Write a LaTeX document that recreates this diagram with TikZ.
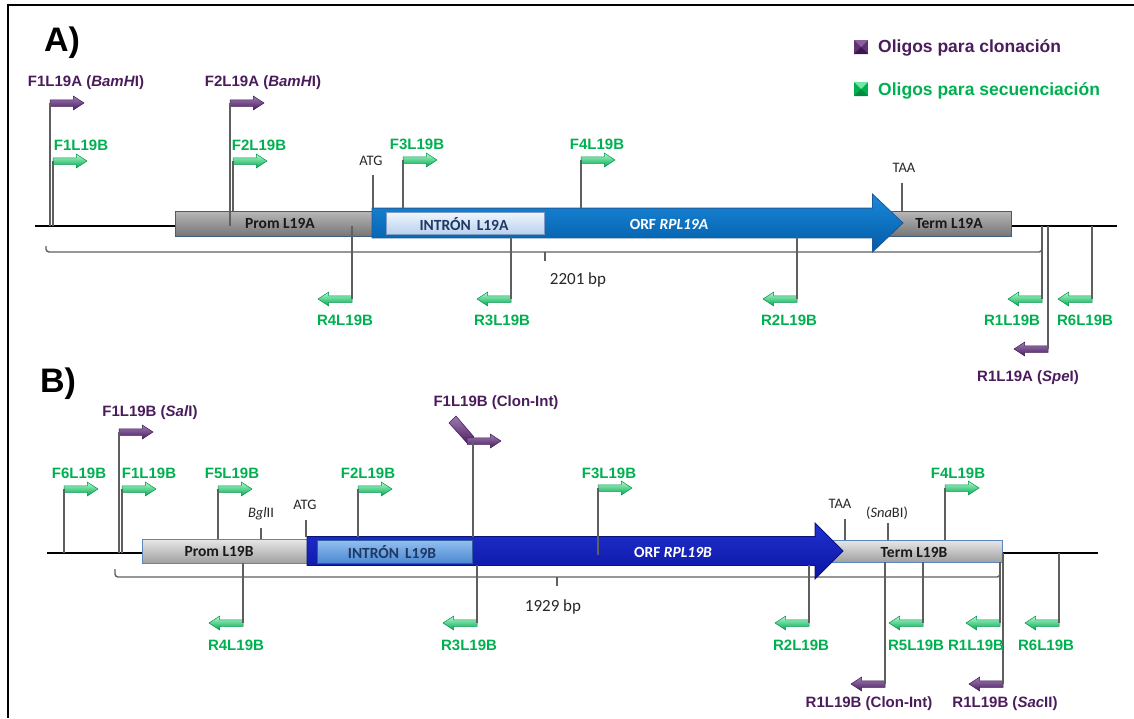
\documentclass[tikz,border=0pt]{standalone}
\usepackage{fontspec}
\setmainfont{Liberation Sans}
\newfontfamily\carl{Carlito}
\usetikzlibrary{shapes.arrows}
\definecolor{gtxt}{HTML}{00B050}
\definecolor{ptxt}{HTML}{4B1C5C}
\definecolor{gtop}{HTML}{B4FAD0}
\definecolor{gbot}{HTML}{00A94F}
\definecolor{gedge}{HTML}{00944A}
\definecolor{ptop}{HTML}{A07AB4}
\definecolor{pbot}{HTML}{4A2060}
\definecolor{pedge}{HTML}{3E1A52}
\definecolor{lgray}{HTML}{5F5F5F}
\definecolor{grAtop}{HTML}{B8B8B8}
\definecolor{grAbot}{HTML}{767676}
\definecolor{edgeA}{HTML}{3F5F80}
\definecolor{grBtop}{HTML}{E8E8E8}
\definecolor{grBbot}{HTML}{A0A0A0}
\definecolor{edgeB}{HTML}{5B87BE}
\definecolor{orfAtop}{HTML}{1C88DA}
\definecolor{orfAbot}{HTML}{005CA6}
\definecolor{orfAedge}{HTML}{1D5A96}
\definecolor{intAtop}{HTML}{F0F6FD}
\definecolor{intAbot}{HTML}{B9D1EE}
\definecolor{intAedge}{HTML}{7F9CC4}
\definecolor{orfBtop}{HTML}{2232D2}
\definecolor{orfBbot}{HTML}{0A14A0}
\definecolor{orfBedge}{HTML}{0A1478}
\definecolor{intBtop}{HTML}{92C0F0}
\definecolor{intBbot}{HTML}{4C88D2}
\definecolor{intBedge}{HTML}{2E5E9E}
\definecolor{navy}{HTML}{1F3864}
\definecolor{picmid}{HTML}{5E3470}
\definecolor{pictop}{HTML}{8A5E9E}
\definecolor{picbot}{HTML}{3B1650}
\definecolor{gicmid}{HTML}{00B050}
\definecolor{gictop}{HTML}{6FE8A6}
\definecolor{gicbot}{HTML}{008A3E}
\begin{document}
\begin{tikzpicture}[x=1pt,y=-1pt,
  primer/.style={single arrow, single arrow head extend=3.6pt, single arrow tip angle=66,
    minimum height=34pt, inner xsep=0pt, inner ysep=3pt, outer sep=0pt, anchor=tail, line width=0.5pt},
  garr/.style={primer, draw=gedge, top color=gtop, bottom color=gbot},
  parr/.style={primer, draw=pedge, top color=ptop, bottom color=pbot},
  rev/.style={shape border rotate=180},
  glab/.style={font=\bfseries\fontsize{15}{17}\selectfont, text=gtxt, inner sep=0pt},
  plab/.style={font=\bfseries\fontsize{15}{17}\selectfont, text=ptxt, inner sep=0pt},
  leglab/.style={font=\bfseries\fontsize{17.5}{20}\selectfont, inner sep=0pt, anchor=west},
  conn/.style={draw=lgray, line width=1.3pt},
  site/.style={draw=lgray, line width=1.3pt},
  sitelab/.style={font=\carl\fontsize{14.5}{16}\selectfont, text=black!85, inner sep=0pt},
  bplab/.style={font=\carl\fontsize{17}{19}\selectfont, text=black!85, inner sep=0pt},
  genebox/.style={rectangle, inner sep=0pt, outer sep=0pt, line width=0.8pt},
  boxA/.style={genebox, draw=edgeA, top color=grAtop, bottom color=grAbot},
  boxB/.style={genebox, draw=edgeB, top color=grBtop, bottom color=grBbot},
  genetxt/.style={font=\carl\bfseries\fontsize{15.5}{17}\selectfont, inner sep=0pt, text=black!90},
  bracket/.style={draw=lgray, line width=1.4pt, rounded corners=3pt},
  backbone/.style={draw=black, line width=2pt},
  paneltitle/.style={font=\bfseries\fontsize{34}{36}\selectfont, inner sep=0pt},
  bigarrow/.style={single arrow, inner xsep=0pt, outer sep=0pt, anchor=tail, line width=0.8pt}
]
\useasboundingbox (0,0) rectangle (1134,718);
% frame
\draw[line width=2.2pt] (8,718) -- (8,5) -- (1134,5);

%================ PANEL A ================
\node[paneltitle] (titA) at (62,43) {A)};
% legend
\fill[picmid] (854,40) rectangle (868,54);
\fill[pictop] (854,40) -- (868,40) -- (861,47) -- cycle;
\fill[picbot] (854,54) -- (868,54) -- (861,47) -- cycle;
\fill[gicmid] (854,82) rectangle (868,96);
\fill[gictop] (854,82) -- (868,82) -- (861,89) -- cycle;
\fill[gicbot] (854,96) -- (868,96) -- (861,89) -- cycle;
\node[leglab, text=ptxt] (legP) at (878,48) {Oligos para clonación};
\node[leglab, text=gtxt] (legG) at (878,91) {Oligos para secuenciación};

% backbone
\coordinate (bbA1) at (35,226);
\coordinate (bbA2) at (1117,226);
\draw[backbone] (bbA1) -- (bbA2);

% bracket
\coordinate (brA1) at (46,246);
\coordinate (brA2) at (46,252);
\coordinate (brA3) at (1042,252);
\coordinate (brA4) at (1042,246);
\draw[bracket] (brA1) -- (brA2) -- (brA3) -- (brA4);
\coordinate (brAm1) at (545,252);
\coordinate (brAm2) at (545,261);
\draw[bracket] (brAm1) -- (brAm2);
\node[bplab] (bpA) at (578,280) {2201 bp};

% gene blocks
\node[boxA, minimum width=211pt, minimum height=25pt] (promA) at (280.5,223.5) {};
\node[boxA, minimum width=131pt, minimum height=25pt] (termA) at (945.5,223.5) {};
\node[bigarrow, inner ysep=14.5pt, single arrow head extend=14pt, single arrow tip angle=87,
  minimum height=531pt,
  draw=orfAedge, top color=orfAtop, bottom color=orfAbot] (orfA) at (372,223) {};
\node[genebox, draw=intAedge, top color=intAtop, bottom color=intAbot,
  minimum width=158pt, minimum height=22pt] (intA) at (465,223) {};
\node[genetxt] (tPromA) at (280,223.5) {Prom L19A};
\node[genetxt, text=navy] (tIntA) at (464,224) {INTRÓN\hspace{6pt}L19A};
\node[genetxt, text=white] (tOrfA) at (669,224) {ORF \textit{RPL19A}};
\node[genetxt] (tTermA) at (949,223.5) {Term L19A};

% sites A
\coordinate (sAtgA1) at (373,208);
\coordinate (sAtgA2) at (373,175);
\draw[site] (sAtgA1) -- (sAtgA2);
\node[sitelab] (atgA) at (371,161) {ATG};
\coordinate (sTaaA1) at (902,211);
\coordinate (sTaaA2) at (902,183);
\draw[site] (sTaaA1) -- (sTaaA2);
\node[sitelab] (taaA) at (904,168) {TAA};

% forward primers A
\node[parr] (pF1A) at (50,103) {};
\node[garr] (pF1Bs) at (53,161) {};
\node[parr] (pF2A) at (230,103) {};
\node[garr] (pF2B) at (233,161) {};
\node[garr] (pF3B) at (403,160) {};
\node[garr] (pF4B) at (581,160) {};
\coordinate (cF1A) at (50,226);
\coordinate (cF1Bs) at (53,226);
\coordinate (cF2A) at (230,226);
\coordinate (cF2B) at (233,211);
\coordinate (cF3B) at (403,208);
\coordinate (cF4B) at (581,208);
\draw[conn] (cF1A) -- (pF1A.tail);
\draw[conn] (cF1Bs) -- (pF1Bs.tail);
\draw[conn] (cF2A) -- (pF2A.tail);
\draw[conn] (cF2B) -- (pF2B.tail);
\draw[conn] (cF3B) -- (pF3B.tail);
\draw[conn] (cF4B) -- (pF4B.tail);
\node[plab] (lF1A) at (86,83) {F1L19A (\textit{BamH}I)};
\node[glab] (lF1Bs) at (81,145) {F1L19B};
\node[plab] (lF2A) at (263,83) {F2L19A (\textit{BamH}I)};
\node[glab] (lF2B) at (259,145) {F2L19B};
\node[glab] (lF3B) at (417,144) {F3L19B};
\node[glab] (lF4B) at (597,144) {F4L19B};

% reverse primers A
\node[garr, rev] (pR4A) at (352,299) {};
\node[garr, rev] (pR3A) at (511,299) {};
\node[garr, rev] (pR2A) at (797,299) {};
\node[garr, rev] (pR1A) at (1042,299) {};
\node[garr, rev] (pR6A) at (1092,299) {};
\node[parr, rev] (pR1Asp) at (1048,349) {};
\coordinate (cR4A) at (352,226);
\coordinate (cR3A) at (511,237);
\coordinate (cR2A) at (797,237);
\coordinate (cR1A) at (1042,226);
\coordinate (cR6A) at (1092,226);
\coordinate (cR1Asp) at (1048,226);
\draw[conn] (cR4A) -- (pR4A.tail);
\draw[conn] (cR3A) -- (pR3A.tail);
\draw[conn] (cR2A) -- (pR2A.tail);
\draw[conn] (cR1A) -- (pR1A.tail);
\draw[conn] (cR6A) -- (pR6A.tail);
\draw[conn] (cR1Asp) -- (pR1Asp.tail);
\node[glab] (lR4A) at (345,320) {R4L19B};
\node[glab] (lR3A) at (502,320) {R3L19B};
\node[glab] (lR2A) at (789,320) {R2L19B};
\node[glab] (lR1A) at (1012,320) {R1L19B};
\node[glab] (lR6A) at (1085,320) {R6L19B};
\node[plab] (lR1Asp) at (1028,378) {R1L19A (\textit{Spe}I)};

%================ PANEL B ================
\node[paneltitle] (titB) at (58,384) {B)};
\coordinate (bbB1) at (47,553);
\coordinate (bbB2) at (1098,553);
\draw[backbone] (bbB1) -- (bbB2);

\coordinate (brB1) at (115,569);
\coordinate (brB2) at (115,577);
\coordinate (brB3) at (1000,577);
\coordinate (brB4) at (1000,569);
\draw[bracket] (brB1) -- (brB2) -- (brB3) -- (brB4);
\coordinate (brBm1) at (557,577);
\coordinate (brBm2) at (557,586);
\draw[bracket] (brBm1) -- (brBm2);
\node[bplab] (bpB) at (553,607) {1929 bp};

\node[boxB, minimum width=168pt, minimum height=24pt] (promB) at (226,551) {};
\node[boxB, minimum width=177pt, minimum height=22pt] (termB) at (913.5,551) {};
\node[bigarrow, inner ysep=14pt, single arrow head extend=13.5pt, single arrow tip angle=90,
  minimum height=536pt,
  draw=orfBedge, top color=orfBtop, bottom color=orfBbot] (orfB) at (307,551) {};
\node[genebox, draw=intBedge, top color=intBtop, bottom color=intBbot,
  minimum width=155pt, minimum height=23pt] (intB) at (394.5,551.5) {};
\node[genetxt] (tPromB) at (219,551.5) {Prom L19B};
\node[genetxt, text=navy] (tIntB) at (392,552) {INTRÓN\hspace{6pt}L19B};
\node[genetxt, text=white] (tOrfB) at (673,552) {ORF \textit{RPL19B}};
\node[genetxt] (tTermB) at (914,552) {Term L19B};

% sites B
\coordinate (sBgl1) at (261,539);
\coordinate (sBgl2) at (261,528);
\draw[site] (sBgl1) -- (sBgl2);
\node[sitelab] (bgl) at (261,514) {\textit{Bgl}II};
\coordinate (sAtgB1) at (306,537);
\coordinate (sAtgB2) at (306,520);
\draw[site] (sAtgB1) -- (sAtgB2);
\node[sitelab] (atgB) at (305,505) {ATG};
\coordinate (sTaaB1) at (845,540);
\coordinate (sTaaB2) at (845,519);
\draw[site] (sTaaB1) -- (sTaaB2);
\node[sitelab] (taaB) at (840,504) {TAA};
\coordinate (sSna1) at (888,540);
\coordinate (sSna2) at (888,523);
\draw[site] (sSna1) -- (sSna2);
\node[sitelab] (sna) at (887,513) {(\textit{Sna}BI)};

% forward primers B
\shade[top color=ptop, bottom color=pbot, draw=pedge, line width=0.5pt]
  (449,423) -- (456,416) -- (474,437) -- (468,444) -- cycle;
\node[parr] (pF1Bsal) at (119,432) {};
\node[garr] (pF6B) at (64,489) {};
\node[garr] (pF1Bb) at (122,489) {};
\node[garr] (pF5B) at (218,489) {};
\node[garr] (pF2Bb) at (358,489) {};
\node[parr] (pCI) at (467,441) {};
\node[garr] (pF3Bb) at (598,488) {};
\node[garr] (pF4Bb) at (945,488) {};
\coordinate (cF1Bsal) at (119,553);
\coordinate (cF6B) at (64,553);
\coordinate (cF1Bb) at (122,553);
\coordinate (cF5B) at (218,539);
\coordinate (cF2Bb) at (358,537);
\coordinate (cCI) at (473,537);
\coordinate (cCIt) at (473,442);
\coordinate (cF3Bb) at (598,555);
\coordinate (cF4Bb) at (945,540);
\draw[conn] (cF1Bsal) -- (pF1Bsal.tail);
\draw[conn] (cF6B) -- (pF6B.tail);
\draw[conn] (cF1Bb) -- (pF1Bb.tail);
\draw[conn] (cF5B) -- (pF5B.tail);
\draw[conn] (cF2Bb) -- (pF2Bb.tail);
\draw[conn] (cCI) -- (cCIt);
\draw[conn] (cF3Bb) -- (pF3Bb.tail);
\draw[conn] (cF4Bb) -- (pF4Bb.tail);
\node[plab] (lF1Bsal) at (150,413) {F1L19B (\textit{Sal}I)};
\node[glab] (lF6B) at (79,473) {F6L19B};
\node[glab] (lF1Bb) at (149,473) {F1L19B};
\node[glab] (lF5B) at (232,473) {F5L19B};
\node[glab] (lF2Bb) at (368,473) {F2L19B};
\node[plab] (lCI) at (496,403) {F1L19B (Clon-Int)};
\node[glab] (lF3Bb) at (609,473) {F3L19B};
\node[glab] (lF4Bb) at (958,473) {F4L19B};

% reverse primers B
\node[garr, rev] (pR4B) at (243,623) {};
\node[garr, rev] (pR3B) at (477,623) {};
\node[garr, rev] (pR2B) at (809,623) {};
\node[garr, rev] (pR5B) at (923,623) {};
\node[garr, rev] (pR1B) at (1000,623) {};
\node[garr, rev] (pR6B) at (1059,623) {};
\node[parr, rev] (pR1CI) at (885,684) {};
\node[parr, rev] (pR1Sac) at (1003,684) {};
\coordinate (cR4B) at (243,563);
\coordinate (cR3B) at (477,565);
\coordinate (cR2B) at (809,565);
\coordinate (cR5B) at (923,562);
\coordinate (cR1B) at (1000,562);
\coordinate (cR6B) at (1059,553);
\coordinate (cR1CI) at (885,562);
\coordinate (cR1Sac) at (1003,553);
\draw[conn] (cR4B) -- (pR4B.tail);
\draw[conn] (cR3B) -- (pR3B.tail);
\draw[conn] (cR2B) -- (pR2B.tail);
\draw[conn] (cR5B) -- (pR5B.tail);
\draw[conn] (cR1B) -- (pR1B.tail);
\draw[conn] (cR6B) -- (pR6B.tail);
\draw[conn] (cR1CI) -- (pR1CI.tail);
\draw[conn] (cR1Sac) -- (pR1Sac.tail);
\node[glab] (lR4B) at (236,645) {R4L19B};
\node[glab] (lR3B) at (469,645) {R3L19B};
\node[glab] (lR2B) at (801,645) {R2L19B};
\node[glab] (lR5B) at (916,645) {R5L19B};
\node[glab] (lR1B) at (976,645) {R1L19B};
\node[glab] (lR6B) at (1046,645) {R6L19B};
\node[plab] (lR1CI) at (869,704) {R1L19B (Clon-Int)};
\node[plab] (lR1Sac) at (1005,704) {R1L19B (\textit{Sac}II)};
\end{tikzpicture}
\end{document}
